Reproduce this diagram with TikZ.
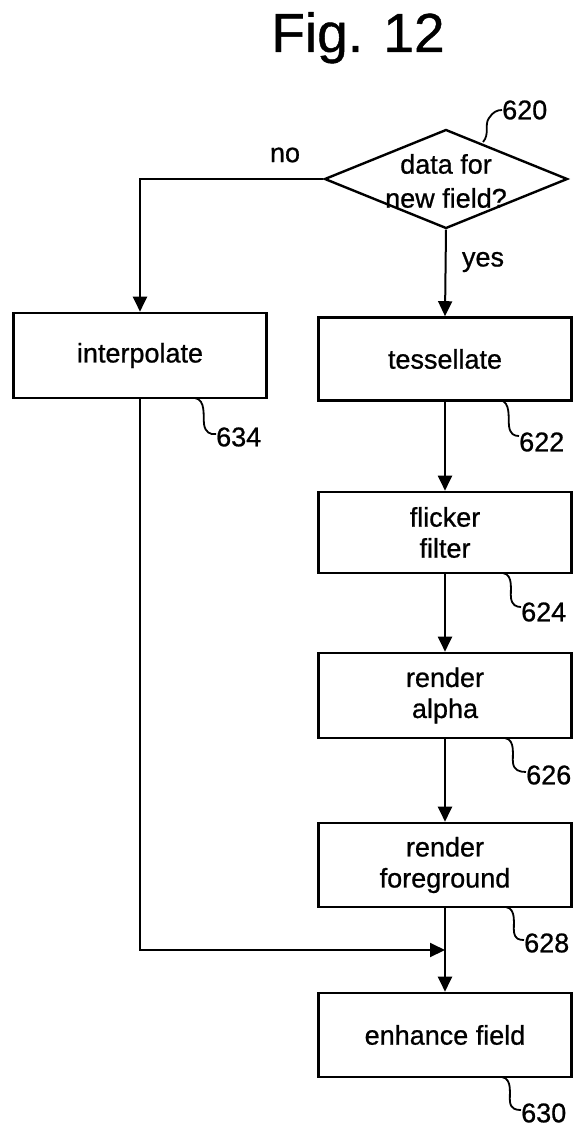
\documentclass[tikz,border=0pt]{standalone}
\usepackage{fontspec}
\setmainfont{Liberation Sans}[FakeBold=0.8]
\usetikzlibrary{arrows.meta,shapes.geometric}
\begin{document}
\begin{tikzpicture}[x=1pt,y=-1pt,
  box/.style={draw,line width=2.6pt,minimum width=253pt,inner sep=0pt,font=\fontsize{27}{31}\selectfont,align=center},
  lbl/.style={font=\fontsize{27}{31}\selectfont,inner sep=0pt},
  flow/.style={line width=2pt,-{Triangle[length=15pt,width=14pt]}},
  lead/.style={line width=1.8pt}]
\useasboundingbox (0,0) rectangle (574,1132);
\node[anchor=base,font=\fontsize{55}{60}\selectfont,inner sep=0pt] (title) at (358,52) {Fig. 12};
\node[draw,diamond,line width=2.4pt,minimum width=243pt,minimum height=99pt,inner sep=0pt,aspect=2.45] (dec) at (446,179) {};
\node[lbl] (dt1) at (446,164) {data for};
\node[lbl] (dt2) at (446,198) {new field?};
\node[box,minimum height=85pt] (interp) at (140,355.5) {interpolate};
\node[box,minimum height=83pt] (tess) at (445,359) {tessellate};
\node[box,minimum height=81pt] (flick) at (445,532.5) {flicker\\filter};
\node[box,minimum height=85pt] (ralpha) at (445,695.5) {render\\alpha};
\node[box,minimum height=84pt] (rfore) at (445,865) {render\\foreground};
\node[box,minimum height=84pt] (enh) at (445,1035) {enhance field};
\node[lbl] (no) at (285,155) {no};
\node[lbl] (yes) at (483,262) {yes};
\node[lbl,anchor=west] (n620) at (502,110) {620};
\node[lbl,anchor=west] (n634) at (216,437) {634};
\node[lbl,anchor=west] (n622) at (519,442) {622};
\node[lbl,anchor=west] (n624) at (521,612) {624};
\node[lbl,anchor=west] (n626) at (526,775) {626};
\node[lbl,anchor=west] (n628) at (524,943) {628};
\node[lbl,anchor=west] (n630) at (521,1113) {630};
\coordinate (merge) at (445,950);
% flows
\draw[flow] (dec.west) -| (interp.north);
\draw[flow] (dec.south) -- (tess.north);
\draw[flow] (tess.south) -- (flick.north);
\draw[flow] (flick.south) -- (ralpha.north);
\draw[flow] (ralpha.south) -- (rfore.north);
\draw[flow] (rfore.south) -- (enh.north);
\draw[flow] (interp.south) |- (merge);
% leaders
\draw[lead] (483,142) .. controls (490,134) and (484,125) .. (489,118) .. controls (493,112) and (497,110) .. (n620.west);
\draw[lead] (195,398) .. controls (206,400) and (203,416) .. (204,424) .. controls (205,432) and (210,435) .. (n634.west|-217,434);
\draw[lead] (500,400) .. controls (511,402) and (508,418) .. (509,426) .. controls (510,434) and (514,436) .. (519,436);
\draw[lead] (503,573) .. controls (514,575) and (510,591) .. (511,598) .. controls (512,605) and (516,607) .. (521,607);
\draw[lead] (505,738) .. controls (516,740) and (512,756) .. (513,763) .. controls (514,770) and (519,772) .. (526,772);
\draw[lead] (506,907) .. controls (517,909) and (513,925) .. (514,932) .. controls (515,939) and (519,940) .. (524,940);
\draw[lead] (502,1077) .. controls (513,1079) and (509,1095) .. (510,1102) .. controls (511,1109) and (516,1110) .. (521,1110);
\end{tikzpicture}
\end{document}
